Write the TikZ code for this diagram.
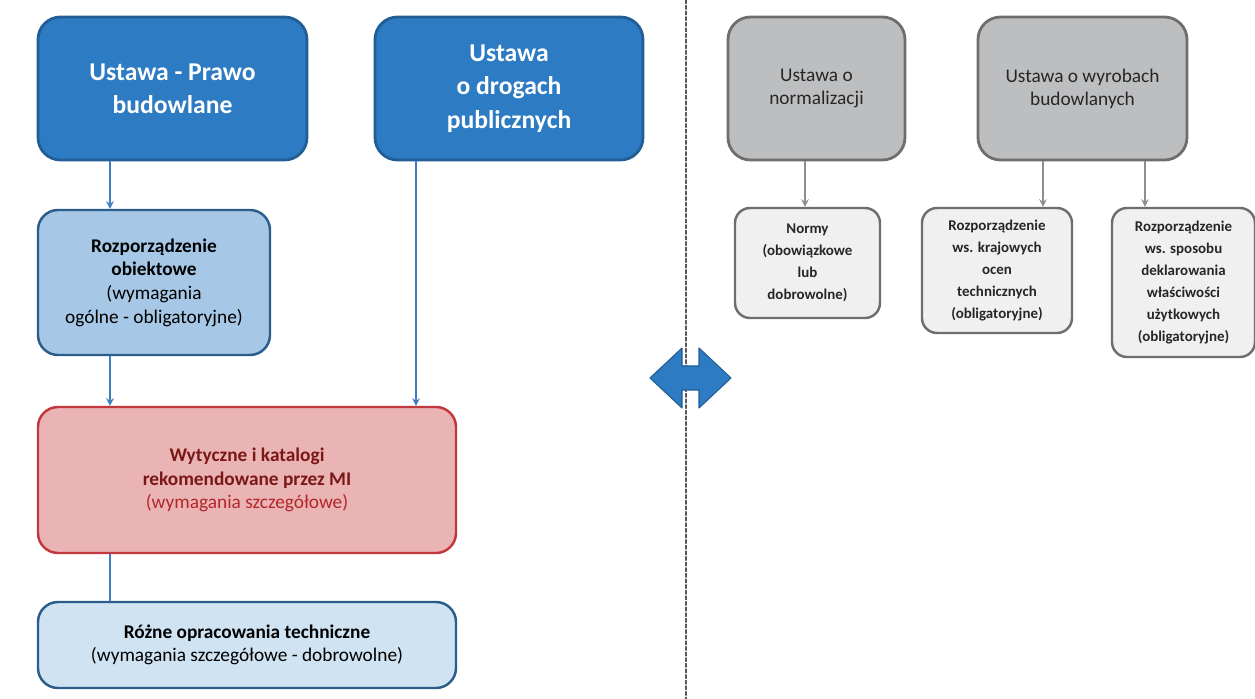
\documentclass[tikz,border=0pt]{standalone}
\usepackage{fontspec}
\setmainfont{Carlito}
\definecolor{niebieski}{HTML}{2D7BC3}
\definecolor{niebieskiB}{HTML}{215E96}
\definecolor{jasny}{HTML}{A6C8E6}
\definecolor{jasnyB}{HTML}{2B5C8A}
\definecolor{bladyB}{HTML}{D0E3F2}
\definecolor{rozowy}{HTML}{EBB4B4}
\definecolor{rozowyB}{HTML}{C2383E}
\definecolor{ciemnyR}{HTML}{7A1717}
\definecolor{czerw}{HTML}{B3262B}
\definecolor{szary}{HTML}{BDBEC0}
\definecolor{szaryB}{HTML}{6E6E6E}
\definecolor{szaryJ}{HTML}{F0F0F0}
\definecolor{strz}{HTML}{3D80C2}
\definecolor{strzS}{HTML}{8E8E8E}
\begin{document}
\begin{tikzpicture}[line join=round, line cap=round, >=stealth,
	ustawa/.style={draw=niebieskiB, line width=1.6pt, fill=niebieski, rounded corners=0.45cm, text=white, align=center, font=\fontsize{14.6}{19}\selectfont\bfseries},
	rozp/.style={draw=jasnyB, line width=1.4pt, rounded corners=0.4cm, align=center, font=\fontsize{11}{13.5}\selectfont},
	szara/.style={draw=szaryB, line width=1.6pt, fill=szary, rounded corners=0.45cm, text=black!85, align=center, font=\fontsize{11}{13}\selectfont},
	mala/.style={draw=szaryB, line width=1.4pt, fill=szaryJ, rounded corners=0.3cm, text=black!85, align=center, font=\fontsize{8.5}{12.5}\selectfont\bfseries},
	niebstrz/.style={-stealth, draw=strz, line width=0.9pt},
	szarstrz/.style={-stealth, draw=strzS, line width=0.9pt}]
	\useasboundingbox (0,0) rectangle (25.1,-13.98);
	% podzial
	\draw[szaryB!80!black, line width=0.8pt, dash pattern=on 2pt off 1.2pt] (13.72,0)--(13.72,-13.98);
	% lewa strona
	\node[ustawa, minimum width=5.38cm, minimum height=2.86cm] (prawo) at (3.45,-1.77) {Ustawa - Prawo\\budowlane};
	\node[ustawa, minimum width=5.36cm, minimum height=2.86cm] (drogi) at (10.18,-1.77) {Ustawa\\o drogach\\publicznych};
	\node[rozp, fill=jasny, minimum width=4.64cm, minimum height=2.9cm] (obiekt) at (3.08,-5.65) {\textbf{Rozporządzenie}\\\textbf{obiektowe}\\(wymagania\\ogólne - obligatoryjne)};
	\node[rozp, draw=rozowyB, fill=rozowy, minimum width=8.36cm, minimum height=2.92cm] (wyt) at (4.94,-9.6) {\textcolor{ciemnyR}{\textbf{Wytyczne i katalogi}}\\\textcolor{ciemnyR}{\textbf{rekomendowane przez MI}}\\\textcolor{czerw}{(wymagania szczegółowe)}};
	\node[rozp, fill=bladyB, minimum width=8.36cm, minimum height=1.72cm] (rozne) at (4.94,-12.9) {\textbf{Różne opracowania techniczne}\\(wymagania szczegółowe - dobrowolne)};
	\coordinate (xl) at (2.2,0);
	\coordinate (xp) at (8.32,0);
	\draw[niebstrz] (prawo.south -| xl)--(obiekt.north -| xl);
	\draw[niebstrz] (obiekt.south -| xl)--(wyt.north -| xl);
	\draw[niebstrz] (drogi.south -| xp)--(wyt.north -| xp);
	\draw[strz, line width=0.9pt] (wyt.south -| xl)--(rozne.north -| xl);
	% prawa strona
	\node[szara, minimum width=3.54cm, minimum height=2.86cm] (norm) at (16.33,-1.77) {Ustawa o\\normalizacji};
	\node[szara, minimum width=4.18cm, minimum height=2.86cm] (wyrob) at (21.65,-1.77) {Ustawa o wyrobach\\budowlanych};
	\node[mala, minimum width=2.9cm, minimum height=2.2cm] (normy) at (16.15,-5.26) {Normy\\(obowiązkowe\\lub\\dobrowolne)};
	\node[mala, minimum width=3.0cm, minimum height=2.5cm] (ocen) at (19.94,-5.41) {Rozporządzenie\\ws. krajowych\\ocen\\technicznych\\(obligatoryjne)};
	\node[mala, minimum width=2.86cm, minimum height=2.98cm] (dekl) at (23.67,-5.65) {Rozporządzenie\\ws. sposobu\\deklarowania\\właściwości\\użytkowych\\(obligatoryjne)};
	\coordinate (x1) at (16.1,0);
	\coordinate (x2) at (20.86,0);
	\coordinate (x3) at (22.9,0);
	\draw[szarstrz] (norm.south -| x1)--(normy.north -| x1);
	\draw[szarstrz] (wyrob.south -| x2)--(ocen.north -| x2);
	\draw[szarstrz] (wyrob.south -| x3)--(dekl.north -| x3);
	% strzalka w obie strony
	\fill[niebieski, draw=niebieskiB, line width=0.6pt] (13.0,-7.56)--(13.64,-6.96)--(13.64,-7.32)--(13.98,-7.32)--(13.98,-6.96)--(14.62,-7.56)--(13.98,-8.16)--(13.98,-7.8)--(13.64,-7.8)--(13.64,-8.16)--cycle;
\end{tikzpicture}
\end{document}
